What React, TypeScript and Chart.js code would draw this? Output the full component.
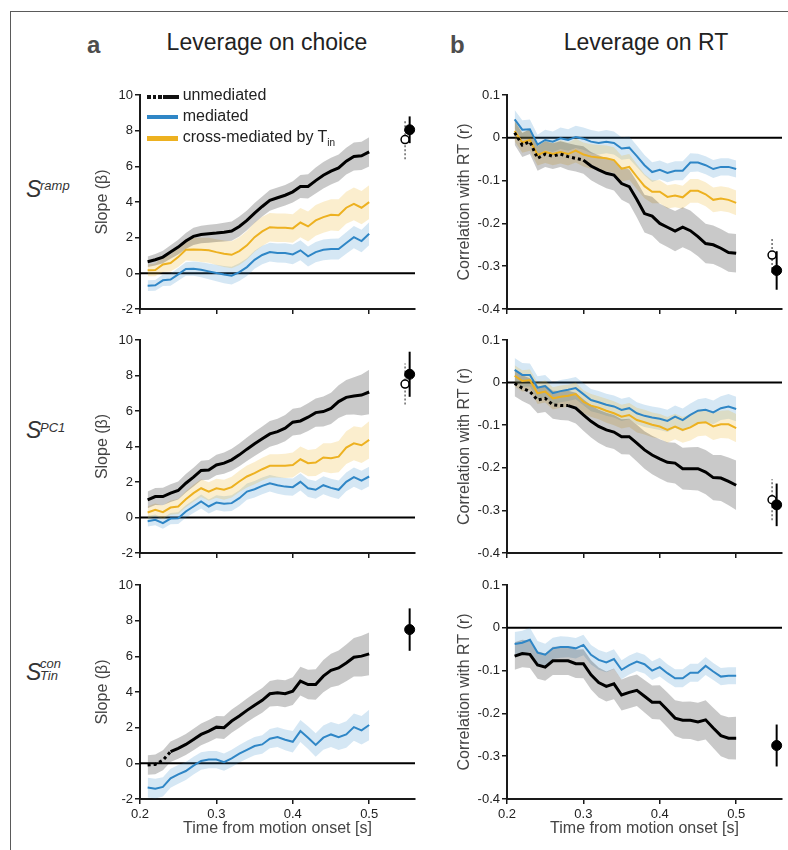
import React, { useEffect, useRef } from 'react';
import { Chart, registerables } from 'chart.js';

Chart.register(...registerables);

const FONT = '"Liberation Sans", Arial, Helvetica, sans-serif';

// ---------------- data ----------------
const TIME = [0.21, 0.22, 0.23, 0.24, 0.25, 0.26, 0.27, 0.28, 0.29, 0.3, 0.31, 0.32, 0.33, 0.34, 0.35, 0.36, 0.37, 0.38, 0.39, 0.4, 0.41, 0.42, 0.43, 0.44, 0.45, 0.46, 0.47, 0.48, 0.49, 0.5];
const X_TICKS = [0.2, 0.3, 0.4, 0.5];
const Y_TICKS_CHOICE = [-2, 0, 2, 4, 6, 8, 10];
const Y_TICKS_RT = [-0.4, -0.3, -0.2, -0.1, 0, 0.1];
const SUMMARY_X = [0.553, 0.547];
const SUMMARY_OPEN = [false, true];

// Row 1: S^ramp
const A1_UNMED = [0.65, 0.76, 0.91, 1.2, 1.47, 1.81, 2.07, 2.18, 2.22, 2.26, 2.31, 2.37, 2.63, 2.97, 3.38, 3.75, 4.09, 4.24, 4.38, 4.57, 4.87, 4.87, 5.2, 5.5, 5.73, 5.91, 6.29, 6.55, 6.59, 6.81];
const A1_UNMED_SEM = [0.3, 0.32, 0.35, 0.38, 0.42, 0.45, 0.48, 0.49, 0.5, 0.5, 0.52, 0.54, 0.56, 0.56, 0.56, 0.56, 0.58, 0.58, 0.58, 0.6, 0.65, 0.68, 0.73, 0.74, 0.75, 0.75, 0.75, 0.78, 0.79, 0.82];
const A1_MED = [-0.69, -0.67, -0.39, -0.35, -0.06, 0.24, 0.26, 0.2, 0.11, 0.02, -0.07, -0.13, 0.07, 0.35, 0.76, 1.03, 1.19, 1.14, 1.14, 1.06, 1.29, 0.95, 1.19, 1.32, 1.36, 1.36, 1.7, 2.03, 1.81, 2.22];
const A1_MED_SEM = [0.3, 0.3, 0.32, 0.34, 0.36, 0.38, 0.4, 0.42, 0.44, 0.46, 0.48, 0.5, 0.5, 0.5, 0.5, 0.52, 0.52, 0.53, 0.54, 0.55, 0.56, 0.56, 0.57, 0.58, 0.58, 0.59, 0.6, 0.62, 0.63, 0.65];
const A1_CROSS = [0.17, 0.19, 0.5, 0.58, 0.91, 1.32, 1.34, 1.32, 1.29, 1.19, 1.1, 1.04, 1.25, 1.57, 2.03, 2.35, 2.59, 2.56, 2.56, 2.52, 2.85, 2.63, 2.97, 3.15, 3.28, 3.26, 3.68, 3.9, 3.68, 3.99];
const A1_CROSS_SEM = [0.33, 0.36, 0.42, 0.48, 0.55, 0.6, 0.65, 0.68, 0.7, 0.72, 0.74, 0.76, 0.78, 0.8, 0.82, 0.82, 0.8, 0.8, 0.8, 0.8, 0.82, 0.84, 0.86, 0.87, 0.88, 0.89, 0.9, 0.92, 0.93, 0.95];
const A1_SUM_Y = [8.05, 7.5];
const A1_SUM_ERR = [0.75, 1.1];

const B1_UNMED = [0.012, -0.017, -0.009, -0.048, -0.038, -0.043, -0.038, -0.044, -0.048, -0.052, -0.066, -0.075, -0.083, -0.087, -0.107, -0.114, -0.144, -0.177, -0.183, -0.2, -0.209, -0.218, -0.209, -0.217, -0.231, -0.247, -0.25, -0.258, -0.268, -0.27];
const B1_UNMED_SEM = [0.028, 0.028, 0.029, 0.029, 0.03, 0.03, 0.03, 0.031, 0.031, 0.032, 0.033, 0.034, 0.035, 0.036, 0.038, 0.04, 0.042, 0.044, 0.045, 0.046, 0.046, 0.047, 0.047, 0.047, 0.046, 0.046, 0.045, 0.045, 0.045, 0.045];
const B1_MED = [0.043, 0.019, 0.02, -0.016, -0.005, -0.009, -0.001, -0.005, 0.002, -0.002, -0.009, -0.012, -0.009, -0.012, -0.025, -0.023, -0.043, -0.064, -0.08, -0.075, -0.082, -0.077, -0.077, -0.058, -0.058, -0.064, -0.073, -0.068, -0.068, -0.073];
const B1_MED_SEM = [0.022, 0.022, 0.023, 0.023, 0.024, 0.024, 0.025, 0.025, 0.026, 0.026, 0.027, 0.027, 0.027, 0.027, 0.026, 0.026, 0.025, 0.024, 0.023, 0.022, 0.022, 0.022, 0.022, 0.022, 0.021, 0.021, 0.021, 0.02, 0.02, 0.02];
const B1_CROSS = [0.016, -0.011, -0.005, -0.04, -0.033, -0.038, -0.033, -0.038, -0.03, -0.039, -0.044, -0.046, -0.048, -0.052, -0.072, -0.068, -0.091, -0.113, -0.126, -0.126, -0.138, -0.135, -0.139, -0.124, -0.124, -0.132, -0.145, -0.142, -0.145, -0.152];
const B1_CROSS_SEM = [0.024, 0.024, 0.025, 0.025, 0.026, 0.026, 0.027, 0.027, 0.028, 0.028, 0.029, 0.029, 0.03, 0.03, 0.03, 0.03, 0.029, 0.028, 0.027, 0.027, 0.027, 0.027, 0.027, 0.028, 0.028, 0.028, 0.029, 0.029, 0.029, 0.029];
const B1_SUM_Y = [-0.31, -0.274];
const B1_SUM_ERR = [0.045, 0.042];

// Row 2: S^PC1
const A2_UNMED = [0.99, 1.18, 1.18, 1.37, 1.52, 1.93, 2.27, 2.65, 2.68, 2.96, 3.06, 3.25, 3.53, 3.85, 4.15, 4.43, 4.71, 4.84, 5.03, 5.37, 5.44, 5.65, 5.91, 5.97, 6.15, 6.53, 6.77, 6.85, 6.9, 7.07];
const A2_UNMED_SEM = [0.47, 0.48, 0.49, 0.5, 0.51, 0.52, 0.53, 0.55, 0.56, 0.58, 0.6, 0.62, 0.64, 0.66, 0.68, 0.7, 0.72, 0.73, 0.74, 0.75, 0.76, 0.78, 0.8, 0.84, 0.88, 0.92, 0.98, 1.05, 1.15, 1.25];
const A2_MED = [-0.21, -0.13, -0.32, -0.06, -0.04, 0.34, 0.62, 0.9, 0.62, 0.84, 0.77, 0.81, 1.09, 1.46, 1.59, 1.78, 1.93, 1.82, 1.74, 1.71, 2.01, 1.65, 1.56, 1.82, 1.67, 1.56, 2.01, 2.27, 2.08, 2.31];
const A2_MED_SEM = [0.3, 0.3, 0.31, 0.32, 0.33, 0.35, 0.37, 0.39, 0.4, 0.42, 0.43, 0.44, 0.45, 0.46, 0.46, 0.47, 0.47, 0.48, 0.48, 0.49, 0.49, 0.5, 0.5, 0.51, 0.52, 0.52, 0.53, 0.54, 0.55, 0.55];
const A2_CROSS = [0.28, 0.43, 0.3, 0.56, 0.62, 1.03, 1.37, 1.65, 1.46, 1.65, 1.56, 1.71, 2.03, 2.31, 2.5, 2.72, 2.91, 2.91, 2.91, 2.96, 3.28, 3.06, 3.1, 3.38, 3.34, 3.43, 3.94, 4.18, 4.07, 4.37];
const A2_CROSS_SEM = [0.35, 0.36, 0.38, 0.4, 0.42, 0.45, 0.48, 0.5, 0.52, 0.54, 0.56, 0.58, 0.6, 0.62, 0.63, 0.64, 0.65, 0.66, 0.68, 0.7, 0.72, 0.74, 0.76, 0.8, 0.84, 0.88, 0.92, 0.96, 1.0, 1.05];
const A2_SUM_Y = [8.07, 7.52];
const A2_SUM_ERR = [1.27, 1.15];

const B2_UNMED = [-0.002, -0.013, -0.021, -0.041, -0.037, -0.052, -0.054, -0.054, -0.06, -0.076, -0.091, -0.103, -0.111, -0.116, -0.127, -0.127, -0.142, -0.158, -0.17, -0.179, -0.187, -0.189, -0.202, -0.202, -0.202, -0.21, -0.223, -0.224, -0.232, -0.241];
const B2_UNMED_SEM = [0.03, 0.03, 0.031, 0.031, 0.032, 0.033, 0.034, 0.035, 0.036, 0.037, 0.038, 0.039, 0.04, 0.04, 0.041, 0.042, 0.043, 0.044, 0.045, 0.046, 0.047, 0.048, 0.049, 0.05, 0.051, 0.052, 0.053, 0.054, 0.056, 0.058];
const B2_MED = [0.03, 0.018, 0.018, -0.012, -0.008, -0.025, -0.02, -0.017, -0.013, -0.027, -0.041, -0.046, -0.052, -0.056, -0.064, -0.06, -0.072, -0.078, -0.082, -0.085, -0.09, -0.08, -0.088, -0.076, -0.066, -0.064, -0.07, -0.06, -0.056, -0.062];
const B2_MED_SEM = [0.028, 0.028, 0.027, 0.027, 0.026, 0.026, 0.026, 0.026, 0.026, 0.026, 0.026, 0.026, 0.026, 0.026, 0.026, 0.026, 0.026, 0.026, 0.026, 0.026, 0.026, 0.026, 0.027, 0.027, 0.027, 0.028, 0.028, 0.028, 0.029, 0.029];
const B2_CROSS = [0.016, 0.004, 0.006, -0.025, -0.021, -0.037, -0.033, -0.031, -0.027, -0.045, -0.054, -0.059, -0.066, -0.072, -0.08, -0.076, -0.088, -0.093, -0.099, -0.103, -0.111, -0.103, -0.111, -0.105, -0.095, -0.093, -0.103, -0.098, -0.098, -0.107];
const B2_CROSS_SEM = [0.025, 0.025, 0.025, 0.025, 0.026, 0.026, 0.026, 0.026, 0.027, 0.027, 0.027, 0.027, 0.028, 0.028, 0.028, 0.028, 0.029, 0.029, 0.029, 0.029, 0.03, 0.03, 0.03, 0.031, 0.031, 0.031, 0.032, 0.032, 0.033, 0.033];
const B2_SUM_Y = [-0.287, -0.275];
const B2_SUM_ERR = [0.05, 0.048];

// Row 3: S_Tin^con
const A3_UNMED = [-0.09, -0.06, 0.17, 0.65, 0.84, 1.06, 1.34, 1.62, 1.81, 2.03, 2.0, 2.37, 2.65, 2.97, 3.26, 3.53, 3.9, 3.96, 3.9, 4.05, 4.61, 4.42, 4.42, 4.89, 5.21, 5.35, 5.63, 5.95, 6.01, 6.14];
const A3_UNMED_SEM = [0.55, 0.55, 0.56, 0.57, 0.58, 0.59, 0.6, 0.61, 0.62, 0.63, 0.64, 0.65, 0.66, 0.67, 0.68, 0.7, 0.72, 0.74, 0.76, 0.78, 0.8, 0.83, 0.86, 0.9, 0.94, 0.98, 1.03, 1.08, 1.14, 1.2];
const A3_MED = [-1.36, -1.42, -1.32, -0.84, -0.62, -0.43, -0.13, 0.13, 0.21, 0.21, 0.07, 0.28, 0.54, 0.76, 0.97, 1.06, 1.38, 1.47, 1.32, 1.21, 1.81, 1.44, 1.03, 1.44, 1.62, 1.47, 1.62, 2.03, 1.85, 2.15];
const A3_MED_SEM = [0.55, 0.55, 0.54, 0.53, 0.52, 0.51, 0.5, 0.49, 0.48, 0.48, 0.48, 0.48, 0.49, 0.5, 0.51, 0.52, 0.54, 0.56, 0.58, 0.6, 0.62, 0.64, 0.66, 0.68, 0.7, 0.72, 0.74, 0.77, 0.8, 0.85];
const A3_SUM_Y = [7.5];
const A3_SUM_ERR = [1.19];

const B3_UNMED = [-0.066, -0.06, -0.062, -0.087, -0.092, -0.077, -0.077, -0.077, -0.084, -0.084, -0.11, -0.128, -0.137, -0.131, -0.157, -0.151, -0.146, -0.16, -0.174, -0.174, -0.192, -0.211, -0.216, -0.216, -0.22, -0.215, -0.234, -0.252, -0.258, -0.258];
const B3_UNMED_SEM = [0.032, 0.032, 0.032, 0.032, 0.032, 0.033, 0.033, 0.033, 0.033, 0.034, 0.034, 0.035, 0.035, 0.036, 0.036, 0.037, 0.037, 0.038, 0.039, 0.04, 0.041, 0.042, 0.043, 0.044, 0.045, 0.046, 0.047, 0.048, 0.049, 0.05];
const B3_MED = [-0.038, -0.035, -0.028, -0.058, -0.063, -0.048, -0.045, -0.045, -0.048, -0.04, -0.063, -0.075, -0.081, -0.073, -0.098, -0.087, -0.079, -0.085, -0.1, -0.092, -0.106, -0.118, -0.118, -0.105, -0.105, -0.089, -0.102, -0.114, -0.112, -0.112];
const B3_MED_SEM = [0.028, 0.028, 0.028, 0.027, 0.026, 0.025, 0.025, 0.024, 0.024, 0.024, 0.023, 0.023, 0.023, 0.023, 0.022, 0.022, 0.022, 0.022, 0.022, 0.022, 0.021, 0.021, 0.021, 0.021, 0.021, 0.021, 0.02, 0.02, 0.02, 0.02];
const B3_SUM_Y = [-0.275];
const B3_SUM_ERR = [0.049];

// ---------------- styles ----------------
const STYLE: Record<string, { line: string; width: number; band: string; order: number }> = {
  unmed: { line: '#000000', width: 3, band: 'rgba(0,0,0,0.21)', order: 1 },
  med: { line: '#2f86c6', width: 2, band: 'rgba(47,134,198,0.2)', order: 3 },
  cross: { line: '#EDB120', width: 2, band: 'rgba(237,177,32,0.22)', order: 2 },
};

type SeriesDef = { kind: string; values: number[]; sem: number[]; dottedUntil?: number };

type PanelProps = {
  left: number; top: number; width: number; height: number;
  yAxisWidth: number; xAxisHeight: number; padTop: number; padRight: number;
  yMin: number; yMax: number; yTicks: number[]; yTitle: string; yTitlePad: number;
  showX: boolean; series: SeriesDef[]; sumY: number[]; sumErr: number[];
};

const zeroLine = {
  id: 'zeroLine',
  beforeDatasetsDraw(chart: any) {
    const { ctx, chartArea, scales } = chart;
    const y = scales.y.getPixelForValue(0);
    ctx.save();
    ctx.strokeStyle = '#000';
    ctx.lineWidth = 2;
    ctx.beginPath();
    ctx.moveTo(chartArea.left, y);
    ctx.lineTo(chartArea.right, y);
    ctx.stroke();
    ctx.restore();
  },
};

function Panel(p: PanelProps) {
  const ref = useRef<HTMLCanvasElement>(null);
  useEffect(() => {
    if (!ref.current) return;
    const datasets: any[] = [];
    p.series.forEach((s, k) => {
      const st = STYLE[s.kind];
      datasets.push({
        data: TIME.map((t, i) => ({ x: t, y: s.values[i] + s.sem[i] })),
        borderWidth: 0, borderColor: 'rgba(0,0,0,0)', pointRadius: 0,
        fill: '+1', backgroundColor: st.band, order: 20 + k,
      });
      datasets.push({
        data: TIME.map((t, i) => ({ x: t, y: s.values[i] - s.sem[i] })),
        borderWidth: 0, borderColor: 'rgba(0,0,0,0)', pointRadius: 0,
        fill: false, order: 20 + k,
      });
    });
    p.series.forEach((s) => {
      const st = STYLE[s.kind];
      const du = s.dottedUntil || 0;
      datasets.push({
        data: TIME.map((t, i) => ({ x: t, y: s.values[i] })),
        borderColor: st.line, borderWidth: st.width, pointRadius: 0, fill: false,
        order: st.order, borderJoinStyle: 'miter', borderCapStyle: 'butt',
        segment: { borderDash: (ctx: any) => (ctx.p0DataIndex < du ? [3, 3] : undefined) },
      });
    });
    p.sumY.forEach((y, j) => {
      const open = SUMMARY_OPEN[j];
      const x = SUMMARY_X[j];
      datasets.push({
        data: [{ x, y: y - p.sumErr[j] }, { x, y: y + p.sumErr[j] }],
        borderColor: open ? '#444' : '#000', borderWidth: open ? 1.2 : 2,
        borderDash: open ? [2, 2] : [], pointRadius: 0, fill: false, clip: false,
        order: open ? 0.8 : 0.4,
      });
      datasets.push({
        data: [{ x, y }], showLine: false, pointRadius: open ? 4 : 5,
        pointBackgroundColor: open ? '#fff' : '#000', pointBorderColor: '#000',
        pointBorderWidth: open ? 1.5 : 1, clip: false, order: open ? 0.6 : 0.1,
      });
    });

    const axisCommon = {
      grid: { display: true, drawOnChartArea: false, drawTicks: true, tickLength: 5, color: '#1a1a1a', lineWidth: 1.5 },
      border: { display: true, color: '#1a1a1a', width: 2 },
    };

    const chart = new Chart(ref.current, {
      type: 'line',
      data: { datasets },
      plugins: [zeroLine],
      options: {
        responsive: false, animation: false, devicePixelRatio: 1, events: [],
        layout: { padding: { top: p.padTop, right: p.padRight, left: 0, bottom: 0 } },
        plugins: { legend: { display: false }, tooltip: { enabled: false } },
        scales: {
          x: {
            type: 'linear', min: 0.2, max: 0.56, ...axisCommon,
            afterBuildTicks: (s: any) => { s.ticks = X_TICKS.map((v) => ({ value: v })); },
            afterFit: (s: any) => { s.height = p.xAxisHeight; },
            ticks: {
              callback: (v: any) => (p.showX ? String(v) : ''), autoSkip: false, maxRotation: 0,
              font: { size: 13, family: FONT }, color: '#222', padding: 3,
            },
            title: {
              display: p.showX, text: 'Time from motion onset [s]',
              font: { size: 16, family: FONT }, color: '#444', padding: { top: 0, bottom: 8 },
            },
          },
          y: {
            type: 'linear', min: p.yMin, max: p.yMax, ...axisCommon,
            afterBuildTicks: (s: any) => { s.ticks = p.yTicks.map((v) => ({ value: v })); },
            afterFit: (s: any) => { s.width = p.yAxisWidth; },
            ticks: { callback: (v: any) => String(v), font: { size: 13, family: FONT }, color: '#222', padding: 2 },
            title: {
              display: true, text: p.yTitle, font: { size: 16, family: FONT }, color: '#444',
              padding: { top: p.yTitlePad, bottom: 0 },
            },
          },
        },
      } as any,
    });
    return () => chart.destroy();
  }, []);
  return (
    <canvas ref={ref} width={p.width} height={p.height}
      style={{ position: 'absolute', left: p.left, top: p.top, width: p.width, height: p.height, display: 'block' }} />
  );
}

const COLS = [
  { left: 85, width: 336, yAxisWidth: 55, padRight: 5, yTitlePad: 8, yMin: -2, yMax: 10, yTicks: Y_TICKS_CHOICE, yTitle: 'Slope (β)' },
  { left: 445, width: 343, yAxisWidth: 62, padRight: 4, yTitlePad: 10, yMin: -0.4, yMax: 0.1, yTicks: Y_TICKS_RT, yTitle: 'Correlation with RT (r)' },
];
const ROWS = [
  { top: 83, height: 238, xAxisHeight: 12, showX: false },
  { top: 328, height: 237, xAxisHeight: 12, showX: false },
  { top: 573, height: 273, xAxisHeight: 47, showX: true },
];

const PANELS: { r: number; c: number; series: SeriesDef[]; sumY: number[]; sumErr: number[] }[] = [
  { r: 0, c: 0, series: [{ kind: 'unmed', values: A1_UNMED, sem: A1_UNMED_SEM }, { kind: 'cross', values: A1_CROSS, sem: A1_CROSS_SEM }, { kind: 'med', values: A1_MED, sem: A1_MED_SEM }], sumY: A1_SUM_Y, sumErr: A1_SUM_ERR },
  { r: 0, c: 1, series: [{ kind: 'unmed', values: B1_UNMED, sem: B1_UNMED_SEM, dottedUntil: 9 }, { kind: 'cross', values: B1_CROSS, sem: B1_CROSS_SEM }, { kind: 'med', values: B1_MED, sem: B1_MED_SEM }], sumY: B1_SUM_Y, sumErr: B1_SUM_ERR },
  { r: 1, c: 0, series: [{ kind: 'unmed', values: A2_UNMED, sem: A2_UNMED_SEM }, { kind: 'cross', values: A2_CROSS, sem: A2_CROSS_SEM }, { kind: 'med', values: A2_MED, sem: A2_MED_SEM }], sumY: A2_SUM_Y, sumErr: A2_SUM_ERR },
  { r: 1, c: 1, series: [{ kind: 'unmed', values: B2_UNMED, sem: B2_UNMED_SEM, dottedUntil: 7 }, { kind: 'cross', values: B2_CROSS, sem: B2_CROSS_SEM }, { kind: 'med', values: B2_MED, sem: B2_MED_SEM }], sumY: B2_SUM_Y, sumErr: B2_SUM_ERR },
  { r: 2, c: 0, series: [{ kind: 'unmed', values: A3_UNMED, sem: A3_UNMED_SEM, dottedUntil: 3 }, { kind: 'med', values: A3_MED, sem: A3_MED_SEM }], sumY: A3_SUM_Y, sumErr: A3_SUM_ERR },
  { r: 2, c: 1, series: [{ kind: 'unmed', values: B3_UNMED, sem: B3_UNMED_SEM }, { kind: 'med', values: B3_MED, sem: B3_MED_SEM }], sumY: B3_SUM_Y, sumErr: B3_SUM_ERR },
];

const abs = (left: number, top: number, extra: any = {}): any => ({ position: 'absolute', left, top, whiteSpace: 'nowrap', lineHeight: 1, ...extra });

function Legend() {
  const txt = { fontSize: 16, color: '#222' };
  return (
    <>
      <div style={abs(147, 94.5, { width: 3.5, height: 4.5, background: '#111' })} />
      <div style={abs(152.5, 94.5, { width: 3.5, height: 4.5, background: '#111' })} />
      <div style={abs(158, 94.5, { width: 3.5, height: 4.5, background: '#111' })} />
      <div style={abs(163, 94.5, { width: 15.5, height: 4.5, background: '#111' })} />
      <div style={abs(146.7, 114.5, { width: 31.6, height: 4.5, background: STYLE.med.line })} />
      <div style={abs(146.7, 136, { width: 31.6, height: 4.5, background: STYLE.cross.line })} />
      <div style={abs(182.7, 86.5, txt)}>unmediated</div>
      <div style={abs(182.7, 107.5, txt)}>mediated</div>
      <div style={abs(182.7, 129, txt)}>cross-mediated by T<sub style={{ fontSize: 10, verticalAlign: '-4px', lineHeight: 1 }}>in</sub></div>
    </>
  );
}

export default function App() {
  const it = { fontStyle: 'italic', color: '#333' };
  return (
    <div style={{ position: 'absolute', left: 0, top: 0, width: 788, height: 850, background: '#fff', fontFamily: FONT, overflow: 'hidden' }}>
      <div style={abs(10, 11, { width: 778, height: 1.3, background: '#5a5a5a' })} />
      <div style={abs(10, 11, { width: 1.3, height: 839, background: '#5a5a5a' })} />

      <div style={abs(87, 33, { fontSize: 24, fontWeight: 'bold', color: '#4d4d4d' })}>a</div>
      <div style={abs(450, 33, { fontSize: 24, fontWeight: 'bold', color: '#4d4d4d' })}>b</div>
      <div style={abs(117, 30.7, { fontSize: 23, width: 300, textAlign: 'center', color: '#222' })}>Leverage on choice</div>
      <div style={abs(496, 30.7, { fontSize: 23, width: 300, textAlign: 'center', color: '#222' })}>Leverage on RT</div>

      <div style={abs(26, 177.5, { ...it, fontSize: 23 })}>S</div>
      <div style={abs(40, 179, { ...it, fontSize: 13 })}>ramp</div>
      <div style={abs(26, 418.5, { ...it, fontSize: 23 })}>S</div>
      <div style={abs(40, 421, { ...it, fontSize: 13 })}>PC1</div>
      <div style={abs(26, 660.5, { ...it, fontSize: 23 })}>S</div>
      <div style={abs(40, 657, { ...it, fontSize: 13 })}>con</div>
      <div style={abs(40, 669, { ...it, fontSize: 13 })}>Tin</div>

      {PANELS.map((pn, idx) => {
        const col = COLS[pn.c];
        const row = ROWS[pn.r];
        return (
          <Panel key={idx} left={col.left} top={row.top} width={col.width} height={row.height}
            yAxisWidth={col.yAxisWidth} xAxisHeight={row.xAxisHeight} padTop={12} padRight={col.padRight}
            yMin={col.yMin} yMax={col.yMax} yTicks={col.yTicks} yTitle={col.yTitle} yTitlePad={col.yTitlePad}
            showX={row.showX} series={pn.series} sumY={pn.sumY} sumErr={pn.sumErr} />
        );
      })}
      <Legend />
    </div>
  );
}
